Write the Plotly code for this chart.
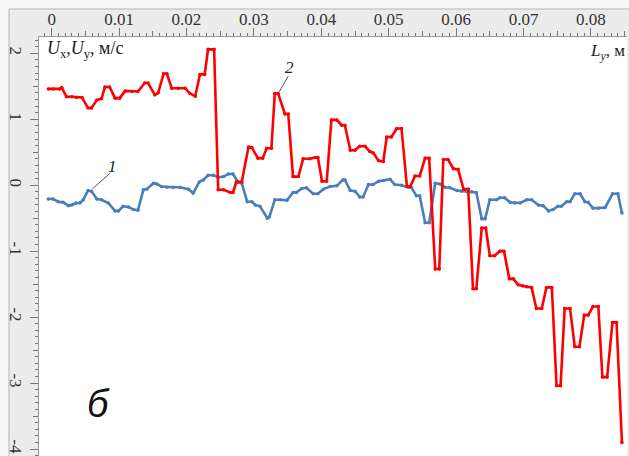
import plotly.graph_objects as go

# Series 2 (red): Uy
red_x = [-0.0005, 0.0002, 0.0012, 0.0015, 0.0022, 0.0030, 0.0037, 0.0045, 0.0054, 0.0059,
         0.0067, 0.0074, 0.0079, 0.0086, 0.0094, 0.0101, 0.0109, 0.0119, 0.0128, 0.0138,
         0.0143, 0.0153, 0.0158, 0.0166, 0.0171, 0.0178, 0.0188, 0.0198, 0.0205, 0.0213,
         0.0220, 0.0227, 0.0232, 0.0241, 0.0247, 0.0255, 0.0265, 0.0269, 0.0274, 0.0282,
         0.0292, 0.0297, 0.0306, 0.0313, 0.0319, 0.0326, 0.0331, 0.0336, 0.0346, 0.0351,
         0.0358, 0.0366, 0.0373, 0.0383, 0.0391, 0.0395, 0.0401, 0.0408, 0.0415, 0.0423,
         0.0430, 0.0435, 0.0443, 0.0450, 0.0457, 0.0465, 0.0472, 0.0477, 0.0485, 0.0492,
         0.0497, 0.0504, 0.0512, 0.0519, 0.0527, 0.0532, 0.0539, 0.0546, 0.0554, 0.0560,
         0.0569, 0.0575, 0.0581, 0.0588, 0.0596, 0.0603, 0.0611, 0.0618, 0.0625, 0.0630,
         0.0638, 0.0644, 0.0650, 0.0657, 0.0665, 0.0671, 0.0679, 0.0685, 0.0692, 0.0699,
         0.0705, 0.0712, 0.0719, 0.0727, 0.0734, 0.0742, 0.0749, 0.0755, 0.0761, 0.0769,
         0.0776, 0.0783, 0.0790, 0.0796, 0.0803, 0.0811, 0.0817, 0.0824, 0.0832, 0.0838,
         0.0846]
red_y = [1.46, 1.46, 1.46, 1.48, 1.34, 1.34, 1.33, 1.33, 1.17, 1.17,
         1.29, 1.31, 1.49, 1.49, 1.32, 1.32, 1.43, 1.42, 1.42, 1.55,
         1.55, 1.37, 1.40, 1.69, 1.69, 1.47, 1.47, 1.47, 1.39, 1.35,
         1.68, 1.68, 2.06, 2.06, -0.07, -0.07, -0.11, -0.11, 0.05, 0.05,
         0.58, 0.57, 0.41, 0.41, 0.56, 0.56, 1.39, 1.39, 1.08, 1.08,
         0.13, 0.13, 0.40, 0.40, 0.42, 0.42, 0.06, 0.06, 0.99, 0.99,
         0.91, 0.91, 0.53, 0.53, 0.59, 0.59, 0.51, 0.49, 0.37, 0.36,
         0.73, 0.73, 0.86, 0.86, -0.02, -0.02, 0.14, 0.14, 0.41, 0.41,
         -1.27, -1.27, 0.39, 0.39, 0.25, 0.24, -0.06, -0.06, -1.57, -1.57,
         -0.65, -0.65, -1.07, -1.07, -1.00, -1.00, -1.42, -1.42, -1.51, -1.53,
         -1.54, -1.55, -1.87, -1.87, -1.55, -1.55, -3.04, -3.04, -1.87, -1.87,
         -2.45, -2.45, -1.97, -1.97, -1.84, -1.84, -2.91, -2.91, -2.08, -2.08,
         -3.90]

# Series 1 (blue): Ux
blue_x = [-0.0005, 0.0002, 0.0010, 0.0017, 0.0025, 0.0030, 0.0036, 0.0042, 0.0047, 0.0054,
          0.0059, 0.0067, 0.0074, 0.0084, 0.0094, 0.0099, 0.0106, 0.0114, 0.0121, 0.0128,
          0.0136, 0.0141, 0.0151, 0.0156, 0.0163, 0.0171, 0.0180, 0.0190, 0.0203, 0.0210,
          0.0219, 0.0225, 0.0232, 0.0240, 0.0247, 0.0255, 0.0262, 0.0269, 0.0277, 0.0282,
          0.0290, 0.0297, 0.0302, 0.0309, 0.0320, 0.0323, 0.0331, 0.0339, 0.0349, 0.0358,
          0.0363, 0.0371, 0.0378, 0.0388, 0.0395, 0.0403, 0.0413, 0.0423, 0.0432, 0.0435,
          0.0443, 0.0450, 0.0457, 0.0462, 0.0470, 0.0477, 0.0485, 0.0492, 0.0502, 0.0509,
          0.0519, 0.0529, 0.0534, 0.0541, 0.0546, 0.0554, 0.0560, 0.0569, 0.0576, 0.0583,
          0.0591, 0.0601, 0.0608, 0.0616, 0.0623, 0.0630, 0.0638, 0.0643, 0.0650, 0.0660,
          0.0665, 0.0672, 0.0680, 0.0687, 0.0695, 0.0705, 0.0712, 0.0722, 0.0729, 0.0737,
          0.0744, 0.0751, 0.0756, 0.0764, 0.0769, 0.0776, 0.0784, 0.0791, 0.0796, 0.0803,
          0.0811, 0.0821, 0.0832, 0.0840, 0.0846]
blue_y = [-0.21, -0.21, -0.25, -0.26, -0.31, -0.30, -0.27, -0.27, -0.22, -0.08,
          -0.09, -0.21, -0.22, -0.27, -0.39, -0.39, -0.32, -0.33, -0.37, -0.38,
          -0.07, -0.06, 0.03, 0.02, -0.02, -0.03, -0.03, -0.03, -0.06, -0.12,
          0.05, 0.08, 0.15, 0.15, 0.12, 0.13, 0.17, 0.17, 0.04, 0.03,
          -0.25, -0.25, -0.30, -0.32, -0.50, -0.48, -0.22, -0.22, -0.23, -0.11,
          -0.11, -0.05, -0.04, -0.13, -0.13, -0.06, -0.02, -0.01, 0.08, 0.08,
          -0.08, -0.09, -0.18, -0.18, 0.01, 0.01, 0.06, 0.07, 0.09, 0.01,
          0.00, -0.03, -0.04, -0.16, -0.16, -0.57, -0.57, 0.03, 0.02, -0.03,
          -0.04, -0.08, -0.09, -0.10, -0.10, -0.11, -0.51, -0.51, -0.22, -0.22,
          -0.19, -0.19, -0.26, -0.27, -0.27, -0.22, -0.22, -0.30, -0.31, -0.39,
          -0.37, -0.32, -0.32, -0.25, -0.25, -0.13, -0.13, -0.25, -0.26, -0.35,
          -0.35, -0.34, -0.13, -0.13, -0.42]

x_ticks = [0, 0.01, 0.02, 0.03, 0.04, 0.05, 0.06, 0.07, 0.08]
x_tick_labels = ["0", "0.01", "0.02", "0.03", "0.04", "0.05", "0.06", "0.07", "0.08"]
y_ticks = [-4, -3, -2, -1, 0, 1, 2]
y_tick_labels = ["-4", "-3", "-2", "-1", "0", "1", "2"]

W, H = 629, 456
ML, MR, MT, MB = 39, 2, 37, 0
PW, PH = W - ML - MR, H - MT - MB

def px_x(p):
    return (p - ML) / PW

def px_y(p):
    return 1 - (p - MT) / PH

serif = "Liberation Serif, Times New Roman, serif"
axis_col = "#9a9a9a"

fig = go.Figure()
fig.add_trace(go.Scatter(x=blue_x, y=blue_y, mode="lines+markers",
                         line=dict(color="#4a7ebb", width=2.6),
                         marker=dict(color="#4a7ebb", size=3.5), showlegend=False))
fig.add_trace(go.Scatter(x=red_x, y=red_y, mode="lines+markers",
                         line=dict(color="#ff0000", width=2.6),
                         marker=dict(color="#ff0000", size=3.5), showlegend=False))
# invisible trace for secondary tick axes
fig.add_trace(go.Scatter(x=[None], y=[None], xaxis="x2", yaxis="y2", showlegend=False))

xr = [-0.00188, 0.08535]
yr = [-4.106, 2.247]

fig.update_layout(
    width=W, height=H, autosize=False,
    margin=dict(l=ML, r=MR, t=MT, b=MB, pad=0),
    paper_bgcolor="#ececec", plot_bgcolor="white",
    xaxis=dict(side="top", range=xr, tickvals=x_ticks, ticktext=x_tick_labels, automargin=False,
               ticks="outside", ticklen=8, tickcolor="#777", tickwidth=1, ticklabelstandoff=-4,
               showline=True, linecolor=axis_col, linewidth=1, showgrid=False, zeroline=False,
               tickfont=dict(family=serif, size=17, color="#333"),
               minor=dict(dtick=0.001, tick0=0, ticks="outside", ticklen=3, tickcolor="#777", showgrid=False)),
    yaxis=dict(range=yr, tickvals=y_ticks, ticktext=y_tick_labels, tickangle=90, automargin=False,
               ticks="outside", ticklen=8, tickcolor="#777", tickwidth=1,
               showline=True, linecolor=axis_col, linewidth=1, showgrid=False, zeroline=False,
               tickfont=dict(family=serif, size=17, color="#333"),
               minor=dict(dtick=0.1, tick0=0, ticks="outside", ticklen=3, tickcolor="#777", showgrid=False)),
    xaxis2=dict(overlaying="x", side="top", range=xr, dtick=0.005, tick0=0, ticks="outside", automargin=False,
                ticklen=5, tickcolor="#777", showticklabels=False, showgrid=False, zeroline=False),
    yaxis2=dict(overlaying="y", side="left", range=yr, dtick=0.5, tick0=0, ticks="outside", automargin=False,
                ticklen=5, tickcolor="#777", showticklabels=False, showgrid=False, zeroline=False),
    shapes=[
        dict(type="line", xref="paper", yref="paper", x0=px_x(9), x1=px_x(W), y0=px_y(9), y1=px_y(9),
             line=dict(color="#b4b4b4", width=1)),
        dict(type="line", xref="paper", yref="paper", x0=px_x(9), x1=px_x(9), y0=px_y(9), y1=px_y(H),
             line=dict(color="#b4b4b4", width=1)),
        dict(type="rect", xref="paper", yref="paper", x0=px_x(0), x1=px_x(W), y0=px_y(9), y1=px_y(0),
             fillcolor="#f6f6f6", line=dict(width=0), layer="below"),
        dict(type="rect", xref="paper", yref="paper", x0=px_x(0), x1=px_x(9), y0=px_y(H), y1=px_y(0),
             fillcolor="#f6f6f6", line=dict(width=0), layer="below"),
        dict(type="line", xref="x", yref="y", x0=0.00602, y0=-0.058, x1=0.00865, y1=0.18,
             line=dict(color="#555", width=1)),
        dict(type="line", xref="x", yref="y", x0=0.03376, y0=1.418, x1=0.0351, y1=1.656,
             line=dict(color="#555", width=1)),
    ],
    annotations=[
        dict(xref="paper", yref="paper", x=px_x(45), y=px_y(50), xanchor="left", yanchor="middle",
             text="<i>U</i><sub>x</sub>,<i>U</i><sub>y</sub>, м/с", showarrow=False,
             font=dict(family=serif, size=18, color="#222")),
        dict(xref="paper", yref="paper", x=px_x(627), y=px_y(52), xanchor="right", yanchor="middle",
             text="<i>L<sub>y</sub></i>, м", showarrow=False,
             font=dict(family=serif, size=17, color="#222")),
        dict(xref="x", yref="y", x=0.00895, y=0.29, text="<i>1</i>", showarrow=False,
             font=dict(family=serif, size=17, color="#222")),
        dict(xref="x", yref="y", x=0.03535, y=1.78, text="<i>2</i>", showarrow=False,
             font=dict(family=serif, size=17, color="#222")),
        dict(xref="paper", yref="paper", x=px_x(85), y=px_y(427), text="<i>б</i>", showarrow=False,
             font=dict(family="Liberation Sans, Arial, sans-serif", size=38, color="#111")),
    ],
)

fig.write_html("out.html", config={"displayModeBar": False},
               post_script="document.body.style.margin='0';document.body.style.padding='0';document.body.style.overflow='hidden';")
